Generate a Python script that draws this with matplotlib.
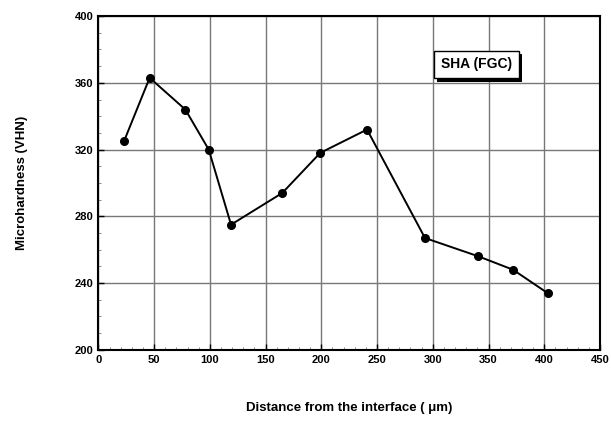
import matplotlib
matplotlib.use("Agg")
import matplotlib.pyplot as plt
import matplotlib.patheffects as pe
from matplotlib.ticker import MultipleLocator

# data
distance = [23, 46, 78, 99, 119, 165, 199, 241, 293, 341, 372, 403]
hardness = [325, 363, 344, 320, 275, 294, 318, 332, 267, 256, 248, 234]

plt.rcParams['font.family'] = ['Liberation Sans', 'DejaVu Sans']

fig = plt.figure(figsize=(6.11, 4.23), dpi=100)
ax = fig.add_axes([0.161, 0.173, 0.821, 0.789])

ax.plot(distance, hardness, color='black', lw=1.4, marker='o', ms=5.5, zorder=3)

ax.set_xlim(0, 450)
ax.set_ylim(200, 400)
ax.xaxis.set_major_locator(MultipleLocator(50))
ax.xaxis.set_minor_locator(MultipleLocator(10))
ax.yaxis.set_major_locator(MultipleLocator(40))
ax.yaxis.set_minor_locator(MultipleLocator(10))
ax.grid(True, which='major', color='#777777', lw=1.0)
ax.tick_params(which='major', direction='in', length=4, labelsize=8, width=1)
ax.tick_params(which='minor', direction='in', length=2, color='#777777')
for lab in ax.get_xticklabels() + ax.get_yticklabels():
    lab.set_fontweight('bold')
for sp in ax.spines.values():
    sp.set_linewidth(1.5)

ax.set_xlabel("Distance from the interface ( \u03bcm)", fontsize=9.5, fontweight='bold', labelpad=27)
ax.set_ylabel("Microhardness (VHN)", fontsize=9.5, fontweight='bold', labelpad=34)

t = ax.text(339, 371, "SHA (FGC)", fontsize=10, fontweight='bold', ha='center', va='center',
            bbox=dict(boxstyle='square,pad=0.5', fc='white', ec='black', lw=1))
t.get_bbox_patch().set_path_effects([pe.SimplePatchShadow(offset=(2.5, -2.5), shadow_rgbFace='black', alpha=1),
                                     pe.Normal()])

fig.savefig("out.png", dpi=100)
